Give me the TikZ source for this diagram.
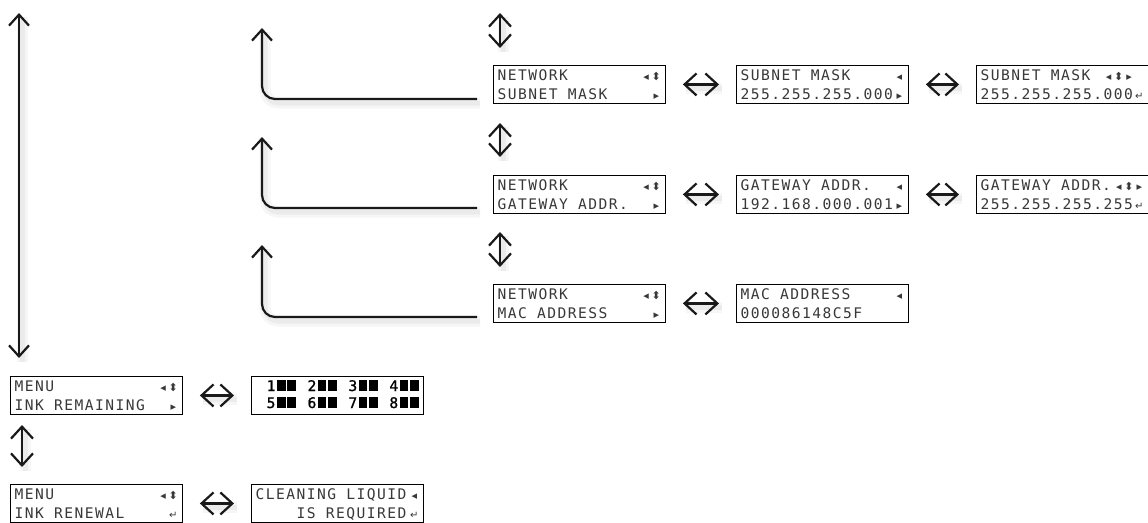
\documentclass[tikz,border=0pt]{standalone}
\usepackage{fontspec}
\usetikzlibrary{arrows.meta,calc}
\newfontfamily\lcdf[LetterSpace=10]{DejaVu Sans Mono}
\newfontfamily\lcdbf[LetterSpace=10,FakeBold=1.2]{DejaVu Sans Mono}
\newfontfamily\symf{DejaVu Sans}
\newlength\cw \setlength\cw{10.23pt}
\newcommand\sL{\makebox[\cw]{\symf\fontsize{11}{11}\selectfont ◂}}
\newcommand\sR{\makebox[\cw]{\symf\fontsize{11}{11}\selectfont ▸}}
\newcommand\sUD{\makebox[\cw]{\symf\fontsize{11}{11}\selectfont ⬍}}
\newcommand\sRet{\makebox[\cw]{\symf\fontsize{10}{10}\selectfont ↵}}
\newcommand\blk{\makebox[\cw]{\rule{8.5pt}{11pt}}}
\newcommand\lline[2]{\makebox[16\cw][l]{#1\hfill#2}}
\newcommand\lcdpanel[5]{%
  \node[lcdbox] (#1) at (#2,#3) {};
  \node[lcdtxt] (#1-a) at ($(#1.north west)+(4.5,15)$) {\lline#4};
  \node[lcdtxt] (#1-b) at ($(#1.north west)+(4.5,34)$) {\lline#5};}
\begin{document}
\begin{tikzpicture}[x=1pt,y=-1pt,
  lcdbox/.style={draw=black, line width=0.9pt, anchor=north west,
    minimum width=172pt, minimum height=38pt, inner sep=0pt, fill=white},
  lcdtxt/.style={anchor=base west, inner sep=0pt, text=black!78,
    font=\lcdf\fontsize{14.6}{18}\selectfont},
  inktxt/.style={anchor=base west, inner sep=0pt, text=black,
    font=\lcdbf\fontsize{14.6}{18}\selectfont},
  shade/.style={
    preaction={draw=black, opacity=0.035, line width=11pt, arrows=-,
      transform canvas={shift={(3pt,-4pt)}}},
    preaction={draw=black, opacity=0.045, line width=5pt, arrows=-,
      transform canvas={shift={(3pt,-4pt)}}}},
  arr/.style={draw=black!90, line width=2.2pt, shade,
    -{Straight Barb[length=11pt,width=20pt]}},
  dbl/.style={draw=black!90, line width=2.2pt, shade,
    {Straight Barb[length=12pt,width=22pt]}-{Straight Barb[length=12pt,width=22pt]}},
]
\useasboundingbox (0,0) rectangle (1148,522);

% network panels
\lcdpanel{n1}{493}{65}{{NETWORK}{\sL\sUD}}{{SUBNET MASK}{\sR}}
\lcdpanel{s1}{736}{65}{{SUBNET MASK}{\sL}}{{255.255.255.000}{\sR}}
\lcdpanel{s2}{976}{65}{{SUBNET MASK}{\sL\sUD\sR\hspace{\cw}}}{{255.255.255.000}{\sRet}}
\lcdpanel{n2}{493}{175}{{NETWORK}{\sL\sUD}}{{GATEWAY ADDR.}{\sR}}
\lcdpanel{g1}{736}{175}{{GATEWAY ADDR.}{\sL}}{{192.168.000.001}{\sR}}
\lcdpanel{g2}{976}{175}{{GATEWAY ADDR.}{\sL\sUD\sR}}{{255.255.255.255}{\sRet}}
\lcdpanel{n3}{493}{284}{{NETWORK}{\sL\sUD}}{{MAC ADDRESS}{\sR}}
\lcdpanel{m1}{736}{284}{{MAC ADDRESS}{\sL}}{{000086148C5F}{}}

% menu panels
\lcdpanel{mn1}{10}{376}{{MENU}{\sL\sUD}}{{INK REMAINING}{\sR}}
\node[lcdbox] (ink) at (251,376) {};
\node[inktxt] (ink-a) at ($(ink.north west)+(4.5,15)$)
  {\makebox[16\cw][l]{\hspace{\cw}\makebox[\cw]{1}\blk\blk\hspace{\cw}\makebox[\cw]{2}\blk\blk\hspace{\cw}\makebox[\cw]{3}\blk\blk\hspace{\cw}\makebox[\cw]{4}\blk\blk}};
\node[inktxt] (ink-b) at ($(ink.north west)+(4.5,32)$)
  {\makebox[16\cw][l]{\hspace{\cw}\makebox[\cw]{5}\blk\blk\hspace{\cw}\makebox[\cw]{6}\blk\blk\hspace{\cw}\makebox[\cw]{7}\blk\blk\hspace{\cw}\makebox[\cw]{8}\blk\blk}};
\lcdpanel{mn2}{10}{484}{{MENU}{\sL\sUD}}{{INK RENEWAL}{\sRet}}
\lcdpanel{cl}{251}{484}{{CLEANING LIQUID}{\sL}}{{\hspace{4\cw}IS REQUIRED}{\sRet}}

% horizontal double arrows
\draw[dbl, shorten <=17pt, shorten >=17pt] (n1.east) -- (s1.west);
\draw[dbl, shorten <=17pt, shorten >=17pt] (s1.east) -- (s2.west);
\draw[dbl, shorten <=17pt, shorten >=17pt] (n2.east) -- (g1.west);
\draw[dbl, shorten <=17pt, shorten >=17pt] (g1.east) -- (g2.west);
\draw[dbl, shorten <=17pt, shorten >=17pt] (n3.east) -- (m1.west);
\draw[dbl, shorten <=17pt, shorten >=17pt] (mn1.east) -- (ink.west);
\draw[dbl, shorten <=17pt, shorten >=17pt] (mn2.east) -- (cl.west);

% vertical double arrows
\coordinate (v0a) at (500,13);
\coordinate (v0b) at (500,48);
\coordinate (v1a) at (500,123);
\coordinate (v1b) at (500,157);
\coordinate (v2a) at (500,232);
\coordinate (v2b) at (500,267);
\coordinate (v3a) at (22,425);
\coordinate (v3b) at (22,467);
\draw[dbl] (v0a) -- (v0b);
\draw[dbl] (v1a) -- (v1b);
\draw[dbl] (v2a) -- (v2b);
\draw[dbl] (v3a) -- (v3b);

% L-shaped return arrows
\coordinate (l1s) at (477,99);  \coordinate (l1t) at (262,28);
\coordinate (l2s) at (477,208); \coordinate (l2t) at (262,137);
\coordinate (l3s) at (477,317); \coordinate (l3t) at (262,245);
\draw[arr, rounded corners=13pt] (l1s) -| (l1t);
\draw[arr, rounded corners=13pt] (l2s) -| (l2t);
\draw[arr, rounded corners=13pt] (l3s) -| (l3t);

% long vertical arrow
\coordinate (ltop) at (19,13);
\coordinate (lbot) at (19,358);
\draw[dbl, {Straight Barb[length=11pt,width=20pt]}-{Straight Barb[length=11pt,width=20pt]}] (ltop) -- (lbot);
\end{tikzpicture}
\end{document}
